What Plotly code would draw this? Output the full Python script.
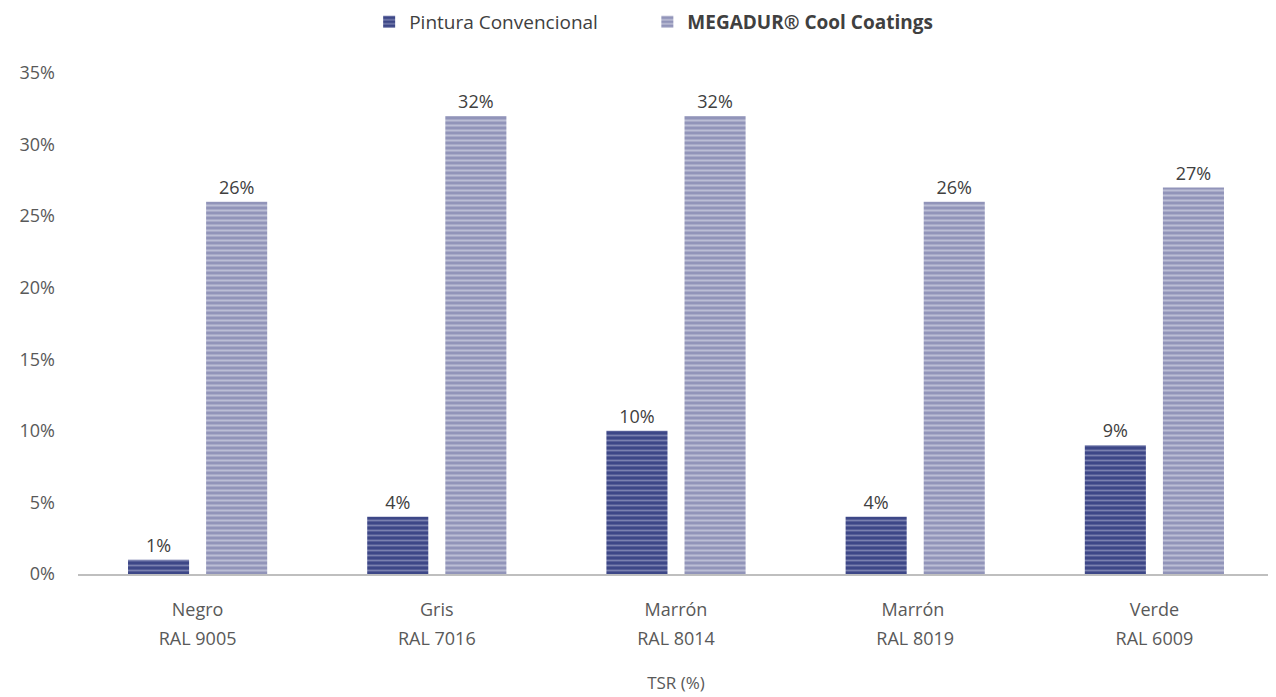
import plotly.graph_objects as go

color_names = ["Negro", "Gris", "Marrón", "Marrón ", "Verde"]
ral_codes = ["RAL 9005", "RAL 7016", "RAL 8014", "RAL 8019", "RAL 6009"]
convencional = [1, 4, 10, 4, 9]
megadur = [26, 32, 32, 26, 27]
y_ticks = [0, 5, 10, 15, 20, 25, 30, 35]
positions = list(range(len(color_names)))

NBSP = "\u00a0"

fig = go.Figure()
fig.add_trace(go.Bar(
    x=positions, y=convencional, name="Pintura Convencional" + NBSP * 9,
    text=[f"{v}%" for v in convencional], textposition="outside",
    textfont=dict(size=18, color="#404040"),
    marker=dict(color="#3d4787", line=dict(width=0),
                pattern=dict(shape="-", fgcolor="#b8bbd8", bgcolor="#3d4787", size=5, solidity=0.35)),
    cliponaxis=False,
))
fig.add_trace(go.Bar(
    x=positions, y=megadur, name="<b>MEGADUR® Cool Coatings</b>",
    text=[f"{v}%" for v in megadur], textposition="outside",
    textfont=dict(size=18, color="#404040"),
    marker=dict(color="#9194b9", line=dict(width=0),
                pattern=dict(shape="-", fgcolor="#e6e7f1", bgcolor="#9194b9", size=5, solidity=0.4)),
    cliponaxis=False,
))

fig.update_layout(
    width=1276, height=697,
    paper_bgcolor="white", plot_bgcolor="white",
    font=dict(family="Open Sans, Liberation Sans, sans-serif", size=16, color="#595959"),
    barmode="group", bargap=0.347, bargroupgap=0.218,
    margin=dict(l=70, r=10, t=65, b=131, autoexpand=False),
    legend=dict(orientation="h", xref="container", yref="container",
                x=0.506, xanchor="center", y=0.98, yanchor="middle",
                itemwidth=30,
                font=dict(size=19, color="#404040"), traceorder="normal"),
    xaxis=dict(range=[-0.5, 4.5], tickvals=positions, ticktext=color_names,
               showline=True, linecolor="#bfbfbf", linewidth=2, ticks="", showgrid=False,
               zeroline=False, ticklabelstandoff=18,
               tickfont=dict(size=18, color="#595959")),
    xaxis2=dict(overlaying="x", matches="x", anchor="y", side="bottom",
                range=[-0.5, 4.5], tickvals=positions, ticktext=ral_codes,
                showline=False, ticks="", showgrid=False, zeroline=False,
                ticklabelstandoff=52, tickfont=dict(size=18, color="#595959"),
                title=dict(text="TSR (%)", font=dict(size=17, color="#595959"), standoff=28)),
    yaxis=dict(range=[0, 35], tickvals=y_ticks, ticktext=[f"{v}%" for v in y_ticks],
               showgrid=False, zeroline=False, ticks="", ticklabelstandoff=22,
               tickfont=dict(size=18, color="#595959")),
)
# invisible helper trace so xaxis2 is drawn
fig.add_trace(go.Scatter(x=positions, y=[0] * len(positions), xaxis="x2", mode="markers",
                         marker=dict(opacity=0), showlegend=False, hoverinfo="skip"))

fig.write_html("out.html")
